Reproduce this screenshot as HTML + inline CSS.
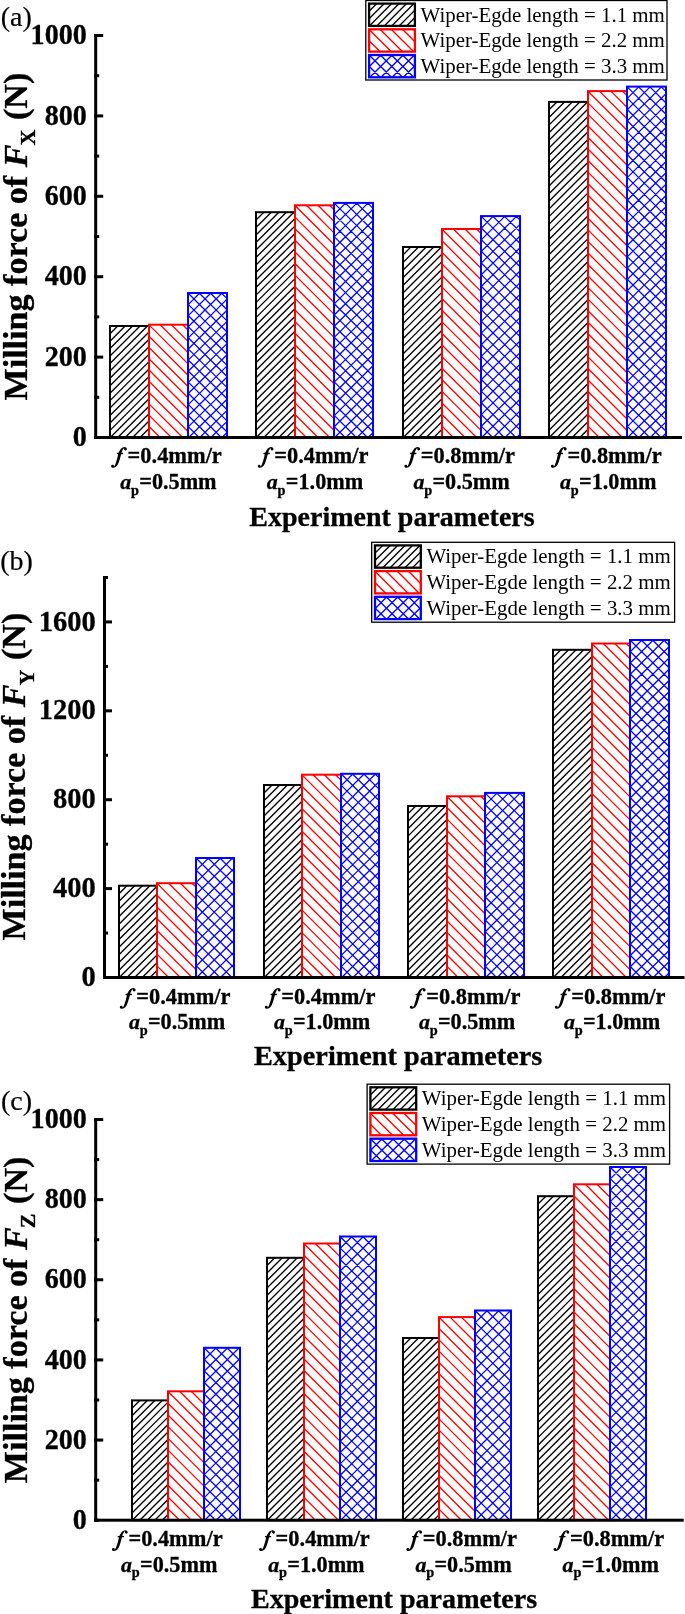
<!DOCTYPE html>
<html><head><meta charset="utf-8"><title>Milling force charts</title>
<style>html,body{margin:0;padding:0;background:#fff;overflow:hidden}svg{display:block;transform:translateZ(0);will-change:transform}text{font-family:"Liberation Serif",serif;fill:#000}.b{stroke:#000;stroke-width:.3px}</style></head><body>
<svg width="685" height="1614" viewBox="0 0 685 1614">
<rect width="685" height="1614" fill="#fff"/>
<defs><path id="fi" transform="scale(0.03504)" d="M385 250C402 195 430 132 462 112C452 140 462 186 497 186C527 186 543 162 538 136C533 105 505 85 470 85C400 85 345 150 300 250L258 252L250 288L290 290C270 390 240 500 205 590C195 615 185 630 170 642C176 612 155 592 128 594C100 596 85 617 90 642C95 670 125 682 150 680C230 675 285 600 315 500C340 420 360 350 375 290L428 290L436 252Z"/></defs>
<path d="M110 326.3L110.3 326M110 333.73L117.73 326M110 341.17L125.17 326M110 348.6L132.6 326M110 356.03L140.03 326M110 363.47L147.47 326M110 370.9L149 331.9M110 378.33L149 339.33M110 385.77L149 346.77M110 393.2L149 354.2M110 400.63L149 361.63M110 408.07L149 369.07M110 415.5L149 376.5M110 422.93L149 383.93M110 430.37L149 391.37M110.3 437.5L149 398.8M117.73 437.5L149 406.23M125.17 437.5L149 413.67M132.6 437.5L149 421.1M140.03 437.5L149 428.53M147.47 437.5L149 435.97" stroke="#000000" stroke-width="1.35" fill="none"/>
<rect x="110" y="326" width="39" height="111.5" fill="none" stroke="#000000" stroke-width="2"/>
<path d="M149 426.42L160.08 437.5M149 415.14L171.36 437.5M149 403.86L182.64 437.5M149 392.58L188 431.58M149 381.3L188 420.3M149 370.02L188 409.02M149 358.74L188 397.74M149 347.46L188 386.46M149 336.18L188 375.18M149 324.9L188 363.9M160.08 324.7L188 352.62M171.36 324.7L188 341.34M182.64 324.7L188 330.06" stroke="#ff0000" stroke-width="1.3" fill="none"/>
<rect x="149" y="324.7" width="39" height="112.8" fill="none" stroke="#ff0000" stroke-width="2"/>
<path d="M188 293.7L188.7 293M188 304.82L199.82 293M188 315.93L210.93 293M188 327.05L222.05 293M188 338.16L227 299.16M188 349.28L227 310.28M188 360.39L227 321.39M188 371.51L227 332.51M188 382.62L227 343.62M188 393.74L227 354.74M188 404.85L227 365.85M188 415.97L227 376.97M188 427.08L227 388.08M188.7 437.5L227 399.2M199.82 437.5L227 410.32M210.93 437.5L227 421.43M222.05 437.5L227 432.55M188 426.38L199.12 437.5M188 415.27L210.23 437.5M188 404.15L221.35 437.5M188 393.04L227 432.04M188 381.92L227 420.92M188 370.81L227 409.81M188 359.69L227 398.69M188 348.58L227 387.58M188 337.46L227 376.46M188 326.35L227 365.35M188 315.23L227 354.23M188 304.12L227 343.12M188 293L227 332M199.12 293L227 320.88M210.23 293L227 309.77M221.35 293L227 298.65" stroke="#0000ff" stroke-width="1.25" fill="none"/>
<rect x="188" y="293" width="39" height="144.5" fill="none" stroke="#0000ff" stroke-width="2"/>
<path d="M256 212.5L256.3 212.2M256 220.01L263.81 212.2M256 227.52L271.32 212.2M256 235.03L278.83 212.2M256 242.54L286.34 212.2M256 250.05L293.85 212.2M256 257.56L295 218.56M256 265.07L295 226.07M256 272.58L295 233.58M256 280.09L295 241.09M256 287.6L295 248.6M256 295.11L295 256.11M256 302.62L295 263.62M256 310.13L295 271.13M256 317.64L295 278.64M256 325.15L295 286.15M256 332.66L295 293.66M256 340.17L295 301.17M256 347.68L295 308.68M256 355.19L295 316.19M256 362.7L295 323.7M256 370.21L295 331.21M256 377.72L295 338.72M256 385.23L295 346.23M256 392.74L295 353.74M256 400.25L295 361.25M256 407.76L295 368.76M256 415.27L295 376.27M256 422.78L295 383.78M256 430.29L295 391.29M256.3 437.5L295 398.8M263.81 437.5L295 406.31M271.32 437.5L295 413.82M278.83 437.5L295 421.33M286.34 437.5L295 428.84M293.85 437.5L295 436.35" stroke="#000000" stroke-width="1.35" fill="none"/>
<rect x="256" y="212.2" width="39" height="225.3" fill="none" stroke="#000000" stroke-width="2"/>
<path d="M295 426.09L306.41 437.5M295 414.48L318.02 437.5M295 402.87L329.63 437.5M295 391.26L334 430.26M295 379.65L334 418.65M295 368.04L334 407.04M295 356.43L334 395.43M295 344.82L334 383.82M295 333.21L334 372.21M295 321.6L334 360.6M295 309.99L334 348.99M295 298.38L334 337.38M295 286.77L334 325.77M295 275.16L334 314.16M295 263.55L334 302.55M295 251.94L334 290.94M295 240.33L334 279.33M295 228.72L334 267.72M295 217.11L334 256.11M295 205.5L334 244.5M306.41 205.3L334 232.89M318.02 205.3L334 221.28M329.63 205.3L334 209.67" stroke="#ff0000" stroke-width="1.3" fill="none"/>
<rect x="295" y="205.3" width="39" height="232.2" fill="none" stroke="#ff0000" stroke-width="2"/>
<path d="M334 203.6L334.7 202.9M334 214.77L345.87 202.9M334 225.94L357.04 202.9M334 237.11L368.21 202.9M334 248.29L373 209.29M334 259.46L373 220.46M334 270.63L373 231.63M334 281.8L373 242.8M334 292.97L373 253.97M334 304.14L373 265.14M334 315.31L373 276.31M334 326.49L373 287.49M334 337.66L373 298.66M334 348.83L373 309.83M334 360L373 321M334 371.17L373 332.17M334 382.34L373 343.34M334 393.51L373 354.51M334 404.69L373 365.69M334 415.86L373 376.86M334 427.03L373 388.03M334.7 437.5L373 399.2M345.87 437.5L373 410.37M357.04 437.5L373 421.54M368.21 437.5L373 432.71M334 426.33L345.17 437.5M334 415.16L356.34 437.5M334 403.99L367.51 437.5M334 392.81L373 431.81M334 381.64L373 420.64M334 370.47L373 409.47M334 359.3L373 398.3M334 348.13L373 387.13M334 336.96L373 375.96M334 325.79L373 364.79M334 314.61L373 353.61M334 303.44L373 342.44M334 292.27L373 331.27M334 281.1L373 320.1M334 269.93L373 308.93M334 258.76L373 297.76M334 247.59L373 286.59M334 236.41L373 275.41M334 225.24L373 264.24M334 214.07L373 253.07M334 202.9L373 241.9M345.17 202.9L373 230.73M356.34 202.9L373 219.56M367.51 202.9L373 208.39" stroke="#0000ff" stroke-width="1.25" fill="none"/>
<rect x="334" y="202.9" width="39" height="234.6" fill="none" stroke="#0000ff" stroke-width="2"/>
<path d="M403 247.3L403.3 247M403 254.92L410.92 247M403 262.54L418.54 247M403 270.16L426.16 247M403 277.78L433.78 247M403 285.4L441.4 247M403 293.02L442 254.02M403 300.64L442 261.64M403 308.26L442 269.26M403 315.88L442 276.88M403 323.5L442 284.5M403 331.12L442 292.12M403 338.74L442 299.74M403 346.36L442 307.36M403 353.98L442 314.98M403 361.6L442 322.6M403 369.22L442 330.22M403 376.84L442 337.84M403 384.46L442 345.46M403 392.08L442 353.08M403 399.7L442 360.7M403 407.32L442 368.32M403 414.94L442 375.94M403 422.56L442 383.56M403 430.18L442 391.18M403.3 437.5L442 398.8M410.92 437.5L442 406.42M418.54 437.5L442 414.04M426.16 437.5L442 421.66M433.78 437.5L442 429.28M441.4 437.5L442 436.9" stroke="#000000" stroke-width="1.35" fill="none"/>
<rect x="403" y="247" width="39" height="190.5" fill="none" stroke="#000000" stroke-width="2"/>
<path d="M442 426.12L453.38 437.5M442 414.53L464.97 437.5M442 402.95L476.55 437.5M442 391.37L481 430.37M442 379.78L481 418.78M442 368.2L481 407.2M442 356.62L481 395.62M442 345.03L481 384.03M442 333.45L481 372.45M442 321.87L481 360.87M442 310.28L481 349.28M442 298.7L481 337.7M442 287.12L481 326.12M442 275.53L481 314.53M442 263.95L481 302.95M442 252.37L481 291.37M442 240.78L481 279.78M442 229.2L481 268.2M453.38 229L481 256.62M464.97 229L481 245.03M476.55 229L481 233.45" stroke="#ff0000" stroke-width="1.3" fill="none"/>
<rect x="442" y="229" width="39" height="208.5" fill="none" stroke="#ff0000" stroke-width="2"/>
<path d="M481 216.8L481.7 216.1M481 228.45L493.35 216.1M481 240.11L505.01 216.1M481 251.76L516.66 216.1M481 263.41L520 224.41M481 275.06L520 236.06M481 286.72L520 247.72M481 298.37L520 259.37M481 310.02L520 271.02M481 321.67L520 282.67M481 333.33L520 294.33M481 344.98L520 305.98M481 356.63L520 317.63M481 368.28L520 329.28M481 379.94L520 340.94M481 391.59L520 352.59M481 403.24L520 364.24M481 414.89L520 375.89M481 426.55L520 387.55M481.7 437.5L520 399.2M493.35 437.5L520 410.85M505.01 437.5L520 422.51M516.66 437.5L520 434.16M481 425.85L492.65 437.5M481 414.19L504.31 437.5M481 402.54L515.96 437.5M481 390.89L520 429.89M481 379.24L520 418.24M481 367.58L520 406.58M481 355.93L520 394.93M481 344.28L520 383.28M481 332.63L520 371.63M481 320.97L520 359.97M481 309.32L520 348.32M481 297.67L520 336.67M481 286.02L520 325.02M481 274.36L520 313.36M481 262.71L520 301.71M481 251.06L520 290.06M481 239.41L520 278.41M481 227.75L520 266.75M481 216.1L520 255.1M492.65 216.1L520 243.45M504.31 216.1L520 231.79M515.96 216.1L520 220.14" stroke="#0000ff" stroke-width="1.25" fill="none"/>
<rect x="481" y="216.1" width="39" height="221.4" fill="none" stroke="#0000ff" stroke-width="2"/>
<path d="M549 102.2L549.3 101.9M549 109.83L556.93 101.9M549 117.45L564.55 101.9M549 125.08L572.18 101.9M549 132.71L579.81 101.9M549 140.34L587.44 101.9M549 147.96L588 108.96M549 155.59L588 116.59M549 163.22L588 124.22M549 170.85L588 131.85M549 178.47L588 139.47M549 186.1L588 147.1M549 193.73L588 154.73M549 201.35L588 162.35M549 208.98L588 169.98M549 216.61L588 177.61M549 224.24L588 185.24M549 231.86L588 192.86M549 239.49L588 200.49M549 247.12L588 208.12M549 254.75L588 215.75M549 262.37L588 223.37M549 270L588 231M549 277.63L588 238.63M549 285.25L588 246.25M549 292.88L588 253.88M549 300.51L588 261.51M549 308.14L588 269.14M549 315.76L588 276.76M549 323.39L588 284.39M549 331.02L588 292.02M549 338.65L588 299.65M549 346.27L588 307.27M549 353.9L588 314.9M549 361.53L588 322.53M549 369.15L588 330.15M549 376.78L588 337.78M549 384.41L588 345.41M549 392.04L588 353.04M549 399.66L588 360.66M549 407.29L588 368.29M549 414.92L588 375.92M549 422.55L588 383.55M549 430.17L588 391.17M549.3 437.5L588 398.8M556.93 437.5L588 406.43M564.55 437.5L588 414.05M572.18 437.5L588 421.68M579.81 437.5L588 429.31M587.44 437.5L588 436.94" stroke="#000000" stroke-width="1.35" fill="none"/>
<rect x="549" y="101.9" width="39" height="335.6" fill="none" stroke="#000000" stroke-width="2"/>
<path d="M588 426.15L599.35 437.5M588 414.61L610.89 437.5M588 403.06L622.44 437.5M588 391.51L627 430.51M588 379.97L627 418.97M588 368.42L627 407.42M588 356.87L627 395.87M588 345.33L627 384.33M588 333.78L627 372.78M588 322.23L627 361.23M588 310.69L627 349.69M588 299.14L627 338.14M588 287.59L627 326.59M588 276.05L627 315.05M588 264.5L627 303.5M588 252.95L627 291.95M588 241.41L627 280.41M588 229.86L627 268.86M588 218.31L627 257.31M588 206.77L627 245.77M588 195.22L627 234.22M588 183.67L627 222.67M588 172.13L627 211.13M588 160.58L627 199.58M588 149.03L627 188.03M588 137.49L627 176.49M588 125.94L627 164.94M588 114.39L627 153.39M588 102.85L627 141.85M588 91.3L627 130.3M599.35 91.1L627 118.75M610.89 91.1L627 107.21M622.44 91.1L627 95.66" stroke="#ff0000" stroke-width="1.3" fill="none"/>
<rect x="588" y="91.1" width="39" height="346.4" fill="none" stroke="#ff0000" stroke-width="2"/>
<path d="M627 87.3L627.7 86.6M627 98.62L639.02 86.6M627 109.94L650.34 86.6M627 121.26L661.66 86.6M627 132.58L666 93.58M627 143.9L666 104.9M627 155.22L666 116.22M627 166.54L666 127.54M627 177.85L666 138.85M627 189.17L666 150.17M627 200.49L666 161.49M627 211.81L666 172.81M627 223.13L666 184.13M627 234.45L666 195.45M627 245.77L666 206.77M627 257.09L666 218.09M627 268.41L666 229.41M627 279.73L666 240.73M627 291.05L666 252.05M627 302.37L666 263.37M627 313.69L666 274.69M627 325.01L666 286.01M627 336.33L666 297.33M627 347.65L666 308.65M627 358.96L666 319.96M627 370.28L666 331.28M627 381.6L666 342.6M627 392.92L666 353.92M627 404.24L666 365.24M627 415.56L666 376.56M627 426.88L666 387.88M627.7 437.5L666 399.2M639.02 437.5L666 410.52M650.34 437.5L666 421.84M661.66 437.5L666 433.16M627 426.18L638.32 437.5M627 414.86L649.64 437.5M627 403.54L660.96 437.5M627 392.22L666 431.22M627 380.9L666 419.9M627 369.58L666 408.58M627 358.26L666 397.26M627 346.95L666 385.95M627 335.63L666 374.63M627 324.31L666 363.31M627 312.99L666 351.99M627 301.67L666 340.67M627 290.35L666 329.35M627 279.03L666 318.03M627 267.71L666 306.71M627 256.39L666 295.39M627 245.07L666 284.07M627 233.75L666 272.75M627 222.43L666 261.43M627 211.11L666 250.11M627 199.79L666 238.79M627 188.47L666 227.47M627 177.15L666 216.15M627 165.84L666 204.84M627 154.52L666 193.52M627 143.2L666 182.2M627 131.88L666 170.88M627 120.56L666 159.56M627 109.24L666 148.24M627 97.92L666 136.92M627 86.6L666 125.6M638.32 86.6L666 114.28M649.64 86.6L666 102.96M660.96 86.6L666 91.64" stroke="#0000ff" stroke-width="1.25" fill="none"/>
<rect x="627" y="86.6" width="39" height="350.9" fill="none" stroke="#0000ff" stroke-width="2"/>
<rect x="94.2" y="34" width="3" height="405" fill="#000"/>
<rect x="94.2" y="436" width="587.8" height="3" fill="#000"/>
<rect x="94.2" y="436" width="5" height="3" fill="#000"/>
<text transform="translate(86.9 446.1) scale(1 1.06)" font-size="28.15" font-weight="bold" font-style="normal" text-anchor="end" class="b">0</text>
<rect x="94.2" y="395.8" width="5" height="3" fill="#000"/>
<rect x="94.2" y="355.6" width="9" height="3" fill="#000"/>
<text transform="translate(86.9 365.7) scale(1 1.06)" font-size="28.15" font-weight="bold" font-style="normal" text-anchor="end" class="b">200</text>
<rect x="94.2" y="315.4" width="5" height="3" fill="#000"/>
<rect x="94.2" y="275.2" width="9" height="3" fill="#000"/>
<text transform="translate(86.9 285.3) scale(1 1.06)" font-size="28.15" font-weight="bold" font-style="normal" text-anchor="end" class="b">400</text>
<rect x="94.2" y="235" width="5" height="3" fill="#000"/>
<rect x="94.2" y="194.8" width="9" height="3" fill="#000"/>
<text transform="translate(86.9 204.9) scale(1 1.06)" font-size="28.15" font-weight="bold" font-style="normal" text-anchor="end" class="b">600</text>
<rect x="94.2" y="154.6" width="5" height="3" fill="#000"/>
<rect x="94.2" y="114.4" width="9" height="3" fill="#000"/>
<text transform="translate(86.9 124.5) scale(1 1.06)" font-size="28.15" font-weight="bold" font-style="normal" text-anchor="end" class="b">800</text>
<rect x="94.2" y="74.2" width="5" height="3" fill="#000"/>
<rect x="94.2" y="34" width="9" height="3" fill="#000"/>
<text transform="translate(86.9 44.1) scale(1 1.06)" font-size="28.15" font-weight="bold" font-style="normal" text-anchor="end" class="b">1000</text>
<text transform="translate(27 400.5) rotate(-90) scale(1 0.985)" font-size="34.1" font-weight="bold" class="b">Milling force of <tspan font-style="italic">F</tspan><tspan font-size="22" dy="8" dx="-1">X</tspan><tspan dy="-8" dx="1.2"> (N)</tspan></text>
<text x="0.7" y="26.3" font-size="28" font-weight="normal" font-style="normal" text-anchor="start" stroke="#000" stroke-width=".2">(a)</text>
<use href="#fi" x="108" y="444"/>
<text x="221.8" y="462.8" font-size="22.4" font-weight="bold" font-style="normal" text-anchor="end" class="b">=0.4mm/r</text>
<text x="120.2" y="489" font-size="22" font-weight="bold" font-style="italic" text-anchor="start" class="b">a</text>
<text x="131" y="494.5" font-size="14.3" font-weight="bold" font-style="normal" text-anchor="start" class="b">p</text>
<text x="216.6" y="489" font-size="22.2" font-weight="bold" font-style="normal" text-anchor="end" class="b">=0.5mm</text>
<use href="#fi" x="254.6" y="444"/>
<text x="368.4" y="462.8" font-size="22.4" font-weight="bold" font-style="normal" text-anchor="end" class="b">=0.4mm/r</text>
<text x="266.8" y="489" font-size="22" font-weight="bold" font-style="italic" text-anchor="start" class="b">a</text>
<text x="277.6" y="494.5" font-size="14.3" font-weight="bold" font-style="normal" text-anchor="start" class="b">p</text>
<text x="363.2" y="489" font-size="22.2" font-weight="bold" font-style="normal" text-anchor="end" class="b">=1.0mm</text>
<use href="#fi" x="401.2" y="444"/>
<text x="515" y="462.8" font-size="22.4" font-weight="bold" font-style="normal" text-anchor="end" class="b">=0.8mm/r</text>
<text x="413.4" y="489" font-size="22" font-weight="bold" font-style="italic" text-anchor="start" class="b">a</text>
<text x="424.2" y="494.5" font-size="14.3" font-weight="bold" font-style="normal" text-anchor="start" class="b">p</text>
<text x="509.8" y="489" font-size="22.2" font-weight="bold" font-style="normal" text-anchor="end" class="b">=0.5mm</text>
<use href="#fi" x="547.8" y="444"/>
<text x="661.6" y="462.8" font-size="22.4" font-weight="bold" font-style="normal" text-anchor="end" class="b">=0.8mm/r</text>
<text x="560" y="489" font-size="22" font-weight="bold" font-style="italic" text-anchor="start" class="b">a</text>
<text x="570.8" y="494.5" font-size="14.3" font-weight="bold" font-style="normal" text-anchor="start" class="b">p</text>
<text x="656.4" y="489" font-size="22.2" font-weight="bold" font-style="normal" text-anchor="end" class="b">=1.0mm</text>
<text x="392" y="525.5" font-size="28" font-weight="bold" font-style="normal" text-anchor="middle" class="b">Experiment parameters</text>
<rect x="365.8" y="0.5" width="301.2" height="79.5" fill="#fff" stroke="#000" stroke-width="1.3"/>
<path d="M369.1 3.9L369.4 3.6M369.1 11.33L376.83 3.6M369.1 18.77L384.27 3.6M369.4 25.9L391.7 3.6M376.83 25.9L399.13 3.6M384.27 25.9L406.57 3.6M391.7 25.9L414 3.6M399.13 25.9L414.9 10.13M406.57 25.9L414.9 17.57M414 25.9L414.9 25" stroke="#000000" stroke-width="1.35" fill="none"/>
<rect x="369.1" y="3.6" width="45.8" height="22.3" fill="none" stroke="#000000" stroke-width="2.3"/>
<text x="420.5" y="21.5" font-size="20.9" font-weight="normal" font-style="normal" text-anchor="start">Wiper-Egde length = 1.1 mm</text>
<path d="M369.1 40.65L380.05 51.6M369.1 29.5L391.2 51.6M380.05 29.3L402.35 51.6M391.2 29.3L413.5 51.6M402.35 29.3L414.9 41.85M413.5 29.3L414.9 30.7" stroke="#ff0000" stroke-width="1.35" fill="none"/>
<rect x="369.1" y="29.3" width="45.8" height="22.3" fill="none" stroke="#ff0000" stroke-width="2.3"/>
<text x="420.5" y="47.2" font-size="20.9" font-weight="normal" font-style="normal" text-anchor="start">Wiper-Egde length = 2.2 mm</text>
<path d="M369.1 55.7L369.8 55M369.1 66.85L380.95 55M369.8 77.3L392.1 55M380.95 77.3L403.25 55M392.1 77.3L414.4 55M403.25 77.3L414.9 65.65M414.4 77.3L414.9 76.8M369.1 66.15L380.25 77.3M369.1 55L391.4 77.3M380.25 55L402.55 77.3M391.4 55L413.7 77.3M402.55 55L414.9 67.35M413.7 55L414.9 56.2" stroke="#0000ff" stroke-width="1.35" fill="none"/>
<rect x="369.1" y="55" width="45.8" height="22.3" fill="none" stroke="#0000ff" stroke-width="2.3"/>
<text x="420.5" y="72.9" font-size="20.9" font-weight="normal" font-style="normal" text-anchor="start">Wiper-Egde length = 3.3 mm</text>
<path d="M119 886L119.3 885.7M119 893.65L126.95 885.7M119 901.3L134.6 885.7M119 908.95L142.25 885.7M119 916.6L149.9 885.7M119 924.25L157 886.25M119 931.9L157 893.9M119 939.55L157 901.55M119 947.2L157 909.2M119 954.85L157 916.85M119 962.5L157 924.5M119 970.15L157 932.15M119.3 977.5L157 939.8M126.95 977.5L157 947.45M134.6 977.5L157 955.1M142.25 977.5L157 962.75M149.9 977.5L157 970.4" stroke="#000000" stroke-width="1.35" fill="none"/>
<rect x="119" y="885.7" width="38" height="91.8" fill="none" stroke="#000000" stroke-width="2"/>
<path d="M157 965.91L168.59 977.5M157 954.12L180.38 977.5M157 942.34L192.16 977.5M157 930.55L196 969.55M157 918.76L196 957.76M157 906.97L196 945.97M157 895.19L196 934.19M157 883.4L196 922.4M168.59 883.2L196 910.61M180.38 883.2L196 898.82M192.16 883.2L196 887.04" stroke="#ff0000" stroke-width="1.3" fill="none"/>
<rect x="157" y="883.2" width="39" height="94.3" fill="none" stroke="#ff0000" stroke-width="2"/>
<path d="M196 858.7L196.7 858M196 870.65L208.65 858M196 882.6L220.6 858M196 894.55L232.55 858M196 906.5L234 868.5M196 918.45L234 880.45M196 930.4L234 892.4M196 942.35L234 904.35M196 954.3L234 916.3M196 966.25L234 928.25M196.7 977.5L234 940.2M208.65 977.5L234 952.15M220.6 977.5L234 964.1M232.55 977.5L234 976.05M196 965.55L207.95 977.5M196 953.6L219.9 977.5M196 941.65L231.85 977.5M196 929.7L234 967.7M196 917.75L234 955.75M196 905.8L234 943.8M196 893.85L234 931.85M196 881.9L234 919.9M196 869.95L234 907.95M196 858L234 896M207.95 858L234 884.05M219.9 858L234 872.1M231.85 858L234 860.15" stroke="#0000ff" stroke-width="1.25" fill="none"/>
<rect x="196" y="858" width="38" height="119.5" fill="none" stroke="#0000ff" stroke-width="2"/>
<path d="M264 785.3L264.3 785M264 793L272 785M264 800.7L279.7 785M264 808.4L287.4 785M264 816.1L295.1 785M264 823.8L302 785.8M264 831.5L302 793.5M264 839.2L302 801.2M264 846.9L302 808.9M264 854.6L302 816.6M264 862.3L302 824.3M264 870L302 832M264 877.7L302 839.7M264 885.4L302 847.4M264 893.1L302 855.1M264 900.8L302 862.8M264 908.5L302 870.5M264 916.2L302 878.2M264 923.9L302 885.9M264 931.6L302 893.6M264 939.3L302 901.3M264 947L302 909M264 954.7L302 916.7M264 962.4L302 924.4M264 970.1L302 932.1M264.3 977.5L302 939.8M272 977.5L302 947.5M279.7 977.5L302 955.2M287.4 977.5L302 962.9M295.1 977.5L302 970.6" stroke="#000000" stroke-width="1.35" fill="none"/>
<rect x="264" y="785" width="38" height="192.5" fill="none" stroke="#000000" stroke-width="2"/>
<path d="M302 966.43L313.07 977.5M302 955.17L324.33 977.5M302 943.9L335.6 977.5M302 932.63L341 971.63M302 921.37L341 960.37M302 910.1L341 949.1M302 898.83L341 937.83M302 887.57L341 926.57M302 876.3L341 915.3M302 865.03L341 904.03M302 853.77L341 892.77M302 842.5L341 881.5M302 831.23L341 870.23M302 819.97L341 858.97M302 808.7L341 847.7M302 797.43L341 836.43M302 786.17L341 825.17M302 774.9L341 813.9M313.07 774.7L341 802.63M324.33 774.7L341 791.37M335.6 774.7L341 780.1" stroke="#ff0000" stroke-width="1.3" fill="none"/>
<rect x="302" y="774.7" width="39" height="202.8" fill="none" stroke="#ff0000" stroke-width="2"/>
<path d="M341 774.5L341.7 773.8M341 785.82L353.02 773.8M341 797.13L364.33 773.8M341 808.45L375.65 773.8M341 819.77L379 781.77M341 831.08L379 793.08M341 842.4L379 804.4M341 853.72L379 815.72M341 865.03L379 827.03M341 876.35L379 838.35M341 887.67L379 849.67M341 898.98L379 860.98M341 910.3L379 872.3M341 921.62L379 883.62M341 932.93L379 894.93M341 944.25L379 906.25M341 955.57L379 917.57M341 966.88L379 928.88M341.7 977.5L379 940.2M353.02 977.5L379 951.52M364.33 977.5L379 962.83M375.65 977.5L379 974.15M341 966.18L352.32 977.5M341 954.87L363.63 977.5M341 943.55L374.95 977.5M341 932.23L379 970.23M341 920.92L379 958.92M341 909.6L379 947.6M341 898.28L379 936.28M341 886.97L379 924.97M341 875.65L379 913.65M341 864.33L379 902.33M341 853.02L379 891.02M341 841.7L379 879.7M341 830.38L379 868.38M341 819.07L379 857.07M341 807.75L379 845.75M341 796.43L379 834.43M341 785.12L379 823.12M341 773.8L379 811.8M352.32 773.8L379 800.48M363.63 773.8L379 789.17M374.95 773.8L379 777.85" stroke="#0000ff" stroke-width="1.25" fill="none"/>
<rect x="341" y="773.8" width="38" height="203.7" fill="none" stroke="#0000ff" stroke-width="2"/>
<path d="M408 806.3L408.3 806M408 813.76L415.76 806M408 821.21L423.21 806M408 828.67L430.67 806M408 836.13L438.13 806M408 843.58L445.58 806M408 851.04L447 812.04M408 858.5L447 819.5M408 865.95L447 826.95M408 873.41L447 834.41M408 880.87L447 841.87M408 888.32L447 849.32M408 895.78L447 856.78M408 903.23L447 864.23M408 910.69L447 871.69M408 918.15L447 879.15M408 925.6L447 886.6M408 933.06L447 894.06M408 940.52L447 901.52M408 947.97L447 908.97M408 955.43L447 916.43M408 962.89L447 923.89M408 970.34L447 931.34M408.3 977.5L447 938.8M415.76 977.5L447 946.26M423.21 977.5L447 953.71M430.67 977.5L447 961.17M438.13 977.5L447 968.63M445.58 977.5L447 976.08" stroke="#000000" stroke-width="1.35" fill="none"/>
<rect x="408" y="806" width="39" height="171.5" fill="none" stroke="#000000" stroke-width="2"/>
<path d="M447 966.37L458.13 977.5M447 955.05L469.45 977.5M447 943.72L480.78 977.5M447 932.4L485 970.4M447 921.07L485 959.07M447 909.75L485 947.75M447 898.42L485 936.42M447 887.1L485 925.1M447 875.77L485 913.77M447 864.45L485 902.45M447 853.12L485 891.12M447 841.8L485 879.8M447 830.48L485 868.48M447 819.15L485 857.15M447 807.83L485 845.83M447 796.5L485 834.5M458.12 796.3L485 823.18M469.45 796.3L485 811.85M480.77 796.3L485 800.53" stroke="#ff0000" stroke-width="1.3" fill="none"/>
<rect x="447" y="796.3" width="38" height="181.2" fill="none" stroke="#ff0000" stroke-width="2"/>
<path d="M485 793.6L485.7 792.9M485 805.14L497.24 792.9M485 816.67L508.77 792.9M485 828.21L520.31 792.9M485 839.75L524 800.75M485 851.29L524 812.29M485 862.82L524 823.82M485 874.36L524 835.36M485 885.9L524 846.9M485 897.44L524 858.44M485 908.97L524 869.97M485 920.51L524 881.51M485 932.05L524 893.05M485 943.59L524 904.59M485 955.12L524 916.12M485 966.66L524 927.66M485.7 977.5L524 939.2M497.24 977.5L524 950.74M508.77 977.5L524 962.27M520.31 977.5L524 973.81M485 965.96L496.54 977.5M485 954.42L508.08 977.5M485 942.89L519.61 977.5M485 931.35L524 970.35M485 919.81L524 958.81M485 908.27L524 947.27M485 896.74L524 935.74M485 885.2L524 924.2M485 873.66L524 912.66M485 862.12L524 901.12M485 850.59L524 889.59M485 839.05L524 878.05M485 827.51L524 866.51M485 815.97L524 854.97M485 804.44L524 843.44M485 792.9L524 831.9M496.54 792.9L524 820.36M508.08 792.9L524 808.82M519.61 792.9L524 797.29" stroke="#0000ff" stroke-width="1.25" fill="none"/>
<rect x="485" y="792.9" width="39" height="184.6" fill="none" stroke="#0000ff" stroke-width="2"/>
<path d="M553 650.1L553.3 649.8M553 657.72L560.92 649.8M553 665.34L568.54 649.8M553 672.96L576.16 649.8M553 680.58L583.78 649.8M553 688.2L591.4 649.8M553 695.83L592 656.83M553 703.45L592 664.45M553 711.07L592 672.07M553 718.69L592 679.69M553 726.31L592 687.31M553 733.93L592 694.93M553 741.55L592 702.55M553 749.17L592 710.17M553 756.79L592 717.79M553 764.41L592 725.41M553 772.03L592 733.03M553 779.66L592 740.66M553 787.28L592 748.28M553 794.9L592 755.9M553 802.52L592 763.52M553 810.14L592 771.14M553 817.76L592 778.76M553 825.38L592 786.38M553 833L592 794M553 840.62L592 801.62M553 848.24L592 809.24M553 855.87L592 816.87M553 863.49L592 824.49M553 871.11L592 832.11M553 878.73L592 839.73M553 886.35L592 847.35M553 893.97L592 854.97M553 901.59L592 862.59M553 909.21L592 870.21M553 916.83L592 877.83M553 924.45L592 885.45M553 932.07L592 893.07M553 939.7L592 900.7M553 947.32L592 908.32M553 954.94L592 915.94M553 962.56L592 923.56M553 970.18L592 931.18M553.3 977.5L592 938.8M560.92 977.5L592 946.42M568.54 977.5L592 954.04M576.16 977.5L592 961.66M583.78 977.5L592 969.28M591.4 977.5L592 976.9" stroke="#000000" stroke-width="1.35" fill="none"/>
<rect x="553" y="649.8" width="39" height="327.7" fill="none" stroke="#000000" stroke-width="2"/>
<path d="M592 966.18L603.32 977.5M592 954.67L614.83 977.5M592 943.15L626.35 977.5M592 931.63L630 969.63M592 920.11L630 958.11M592 908.6L630 946.6M592 897.08L630 935.08M592 885.56L630 923.56M592 874.04L630 912.04M592 862.53L630 900.53M592 851.01L630 889.01M592 839.49L630 877.49M592 827.98L630 865.98M592 816.46L630 854.46M592 804.94L630 842.94M592 793.42L630 831.42M592 781.91L630 819.91M592 770.39L630 808.39M592 758.87L630 796.87M592 747.36L630 785.36M592 735.84L630 773.84M592 724.32L630 762.32M592 712.8L630 750.8M592 701.29L630 739.29M592 689.77L630 727.77M592 678.25L630 716.25M592 666.73L630 704.73M592 655.22L630 693.22M592 643.7L630 681.7M603.32 643.5L630 670.18M614.83 643.5L630 658.67M626.35 643.5L630 647.15" stroke="#ff0000" stroke-width="1.3" fill="none"/>
<rect x="592" y="643.5" width="38" height="334" fill="none" stroke="#ff0000" stroke-width="2"/>
<path d="M630 640.7L630.7 640M630 651.95L641.95 640M630 663.2L653.2 640M630 674.45L664.45 640M630 685.7L669 646.7M630 696.95L669 657.95M630 708.2L669 669.2M630 719.45L669 680.45M630 730.7L669 691.7M630 741.95L669 702.95M630 753.2L669 714.2M630 764.45L669 725.45M630 775.7L669 736.7M630 786.95L669 747.95M630 798.2L669 759.2M630 809.45L669 770.45M630 820.7L669 781.7M630 831.95L669 792.95M630 843.2L669 804.2M630 854.45L669 815.45M630 865.7L669 826.7M630 876.95L669 837.95M630 888.2L669 849.2M630 899.45L669 860.45M630 910.7L669 871.7M630 921.95L669 882.95M630 933.2L669 894.2M630 944.45L669 905.45M630 955.7L669 916.7M630 966.95L669 927.95M630.7 977.5L669 939.2M641.95 977.5L669 950.45M653.2 977.5L669 961.7M664.45 977.5L669 972.95M630 966.25L641.25 977.5M630 955L652.5 977.5M630 943.75L663.75 977.5M630 932.5L669 971.5M630 921.25L669 960.25M630 910L669 949M630 898.75L669 937.75M630 887.5L669 926.5M630 876.25L669 915.25M630 865L669 904M630 853.75L669 892.75M630 842.5L669 881.5M630 831.25L669 870.25M630 820L669 859M630 808.75L669 847.75M630 797.5L669 836.5M630 786.25L669 825.25M630 775L669 814M630 763.75L669 802.75M630 752.5L669 791.5M630 741.25L669 780.25M630 730L669 769M630 718.75L669 757.75M630 707.5L669 746.5M630 696.25L669 735.25M630 685L669 724M630 673.75L669 712.75M630 662.5L669 701.5M630 651.25L669 690.25M630 640L669 679M641.25 640L669 667.75M652.5 640L669 656.5M663.75 640L669 645.25" stroke="#0000ff" stroke-width="1.25" fill="none"/>
<rect x="630" y="640" width="39" height="337.5" fill="none" stroke="#0000ff" stroke-width="2"/>
<rect x="103" y="576" width="3" height="403" fill="#000"/>
<rect x="103" y="976" width="581.5" height="3" fill="#000"/>
<rect x="103" y="976" width="5" height="3" fill="#000"/>
<text transform="translate(95.7 986.1) scale(1 1.06)" font-size="28.5" font-weight="bold" font-style="normal" text-anchor="end" class="b">0</text>
<rect x="103" y="931.56" width="5" height="3" fill="#000"/>
<rect x="103" y="887.11" width="9" height="3" fill="#000"/>
<text transform="translate(95.7 897.21) scale(1 1.06)" font-size="28.5" font-weight="bold" font-style="normal" text-anchor="end" class="b">400</text>
<rect x="103" y="842.67" width="5" height="3" fill="#000"/>
<rect x="103" y="798.22" width="9" height="3" fill="#000"/>
<text transform="translate(95.7 808.32) scale(1 1.06)" font-size="28.5" font-weight="bold" font-style="normal" text-anchor="end" class="b">800</text>
<rect x="103" y="753.78" width="5" height="3" fill="#000"/>
<rect x="103" y="709.33" width="9" height="3" fill="#000"/>
<text transform="translate(95.7 719.43) scale(1 1.06)" font-size="28.5" font-weight="bold" font-style="normal" text-anchor="end" class="b">1200</text>
<rect x="103" y="664.89" width="5" height="3" fill="#000"/>
<rect x="103" y="620.44" width="9" height="3" fill="#000"/>
<text transform="translate(95.7 630.54) scale(1 1.06)" font-size="28.5" font-weight="bold" font-style="normal" text-anchor="end" class="b">1600</text>
<rect x="103" y="576" width="5" height="3" fill="#000"/>
<text transform="translate(25.4 940.5) rotate(-90) scale(1 0.985)" font-size="34.1" font-weight="bold" class="b">Milling force of <tspan font-style="italic">F</tspan><tspan font-size="22" dy="9.2" dx="-1">Y</tspan><tspan dy="-9.2" dx="1.2"> (N)</tspan></text>
<text x="0.3" y="570.3" font-size="28" font-weight="normal" font-style="normal" text-anchor="start" stroke="#000" stroke-width=".2">(b)</text>
<use href="#fi" x="116.7" y="985"/>
<text x="230.5" y="1003.8" font-size="22.4" font-weight="bold" font-style="normal" text-anchor="end" class="b">=0.4mm/r</text>
<text x="128.9" y="1029.2" font-size="22" font-weight="bold" font-style="italic" text-anchor="start" class="b">a</text>
<text x="139.7" y="1034.7" font-size="14.3" font-weight="bold" font-style="normal" text-anchor="start" class="b">p</text>
<text x="225.3" y="1029.2" font-size="22.2" font-weight="bold" font-style="normal" text-anchor="end" class="b">=0.5mm</text>
<use href="#fi" x="261.7" y="985"/>
<text x="375.5" y="1003.8" font-size="22.4" font-weight="bold" font-style="normal" text-anchor="end" class="b">=0.4mm/r</text>
<text x="273.9" y="1029.2" font-size="22" font-weight="bold" font-style="italic" text-anchor="start" class="b">a</text>
<text x="284.7" y="1034.7" font-size="14.3" font-weight="bold" font-style="normal" text-anchor="start" class="b">p</text>
<text x="370.3" y="1029.2" font-size="22.2" font-weight="bold" font-style="normal" text-anchor="end" class="b">=1.0mm</text>
<use href="#fi" x="406.7" y="985"/>
<text x="520.5" y="1003.8" font-size="22.4" font-weight="bold" font-style="normal" text-anchor="end" class="b">=0.8mm/r</text>
<text x="418.9" y="1029.2" font-size="22" font-weight="bold" font-style="italic" text-anchor="start" class="b">a</text>
<text x="429.7" y="1034.7" font-size="14.3" font-weight="bold" font-style="normal" text-anchor="start" class="b">p</text>
<text x="515.3" y="1029.2" font-size="22.2" font-weight="bold" font-style="normal" text-anchor="end" class="b">=0.5mm</text>
<use href="#fi" x="551.7" y="985"/>
<text x="665.5" y="1003.8" font-size="22.4" font-weight="bold" font-style="normal" text-anchor="end" class="b">=0.8mm/r</text>
<text x="563.9" y="1029.2" font-size="22" font-weight="bold" font-style="italic" text-anchor="start" class="b">a</text>
<text x="574.7" y="1034.7" font-size="14.3" font-weight="bold" font-style="normal" text-anchor="start" class="b">p</text>
<text x="660.3" y="1029.2" font-size="22.2" font-weight="bold" font-style="normal" text-anchor="end" class="b">=1.0mm</text>
<text x="398.2" y="1064.9" font-size="28.3" font-weight="bold" font-style="normal" text-anchor="middle" class="b">Experiment parameters</text>
<rect x="371.7" y="542.3" width="302.9" height="79.9" fill="#fff" stroke="#000" stroke-width="1.3"/>
<path d="M375 545.7L375.3 545.4M375 553.13L382.73 545.4M375 560.57L390.17 545.4M375.3 567.7L397.6 545.4M382.73 567.7L405.03 545.4M390.17 567.7L412.47 545.4M397.6 567.7L419.9 545.4M405.03 567.7L420.8 551.93M412.47 567.7L420.8 559.37M419.9 567.7L420.8 566.8" stroke="#000000" stroke-width="1.35" fill="none"/>
<rect x="375" y="545.4" width="45.8" height="22.3" fill="none" stroke="#000000" stroke-width="2.3"/>
<text x="426.4" y="563.3" font-size="20.9" font-weight="normal" font-style="normal" text-anchor="start">Wiper-Egde length = 1.1 mm</text>
<path d="M375 582.45L385.95 593.4M375 571.3L397.1 593.4M385.95 571.1L408.25 593.4M397.1 571.1L419.4 593.4M408.25 571.1L420.8 583.65M419.4 571.1L420.8 572.5" stroke="#ff0000" stroke-width="1.35" fill="none"/>
<rect x="375" y="571.1" width="45.8" height="22.3" fill="none" stroke="#ff0000" stroke-width="2.3"/>
<text x="426.4" y="589" font-size="20.9" font-weight="normal" font-style="normal" text-anchor="start">Wiper-Egde length = 2.2 mm</text>
<path d="M375 597.5L375.7 596.8M375 608.65L386.85 596.8M375.7 619.1L398 596.8M386.85 619.1L409.15 596.8M398 619.1L420.3 596.8M409.15 619.1L420.8 607.45M420.3 619.1L420.8 618.6M375 607.95L386.15 619.1M375 596.8L397.3 619.1M386.15 596.8L408.45 619.1M397.3 596.8L419.6 619.1M408.45 596.8L420.8 609.15M419.6 596.8L420.8 598" stroke="#0000ff" stroke-width="1.35" fill="none"/>
<rect x="375" y="596.8" width="45.8" height="22.3" fill="none" stroke="#0000ff" stroke-width="2.3"/>
<text x="426.4" y="614.7" font-size="20.9" font-weight="normal" font-style="normal" text-anchor="start">Wiper-Egde length = 3.3 mm</text>
<path d="M132 1400.7L132.3 1400.4M132 1408.19L139.79 1400.4M132 1415.67L147.27 1400.4M132 1423.16L154.76 1400.4M132 1430.65L162.25 1400.4M132 1438.14L168 1402.14M132 1445.62L168 1409.62M132 1453.11L168 1417.11M132 1460.6L168 1424.6M132 1468.09L168 1432.09M132 1475.57L168 1439.57M132 1483.06L168 1447.06M132 1490.55L168 1454.55M132 1498.04L168 1462.04M132 1505.52L168 1469.52M132 1513.01L168 1477.01M132.3 1520.2L168 1484.5M139.79 1520.2L168 1491.99M147.27 1520.2L168 1499.47M154.76 1520.2L168 1506.96M162.25 1520.2L168 1514.45" stroke="#000000" stroke-width="1.35" fill="none"/>
<rect x="132" y="1400.4" width="36" height="119.8" fill="none" stroke="#000000" stroke-width="2"/>
<path d="M168 1508.68L179.52 1520.2M168 1496.96L191.24 1520.2M168 1485.25L202.95 1520.2M168 1473.53L204 1509.53M168 1461.81L204 1497.81M168 1450.09L204 1486.09M168 1438.37L204 1474.37M168 1426.65L204 1462.65M168 1414.94L204 1450.94M168 1403.22L204 1439.22M168 1391.5L204 1427.5M179.52 1391.3L204 1415.78M191.24 1391.3L204 1404.06M202.95 1391.3L204 1392.35" stroke="#ff0000" stroke-width="1.3" fill="none"/>
<rect x="168" y="1391.3" width="36" height="128.9" fill="none" stroke="#ff0000" stroke-width="2"/>
<path d="M204 1348.5L204.7 1347.8M204 1359.99L216.19 1347.8M204 1371.49L227.69 1347.8M204 1382.98L239.18 1347.8M204 1394.47L240 1358.47M204 1405.97L240 1369.97M204 1417.46L240 1381.46M204 1428.95L240 1392.95M204 1440.45L240 1404.45M204 1451.94L240 1415.94M204 1463.43L240 1427.43M204 1474.93L240 1438.93M204 1486.42L240 1450.42M204 1497.91L240 1461.91M204 1509.41L240 1473.41M204.7 1520.2L240 1484.9M216.19 1520.2L240 1496.39M227.69 1520.2L240 1507.89M239.18 1520.2L240 1519.38M204 1508.71L215.49 1520.2M204 1497.21L226.99 1520.2M204 1485.72L238.48 1520.2M204 1474.23L240 1510.23M204 1462.73L240 1498.73M204 1451.24L240 1487.24M204 1439.75L240 1475.75M204 1428.25L240 1464.25M204 1416.76L240 1452.76M204 1405.27L240 1441.27M204 1393.77L240 1429.77M204 1382.28L240 1418.28M204 1370.79L240 1406.79M204 1359.29L240 1395.29M204 1347.8L240 1383.8M215.49 1347.8L240 1372.31M226.99 1347.8L240 1360.81M238.48 1347.8L240 1349.32" stroke="#0000ff" stroke-width="1.25" fill="none"/>
<rect x="204" y="1347.8" width="36" height="172.4" fill="none" stroke="#0000ff" stroke-width="2"/>
<path d="M267 1258.1L267.3 1257.8M267 1265.6L274.8 1257.8M267 1273.09L282.29 1257.8M267 1280.59L289.79 1257.8M267 1288.09L297.29 1257.8M267 1295.59L304 1258.59M267 1303.08L304 1266.08M267 1310.58L304 1273.58M267 1318.08L304 1281.08M267 1325.57L304 1288.57M267 1333.07L304 1296.07M267 1340.57L304 1303.57M267 1348.07L304 1311.07M267 1355.56L304 1318.56M267 1363.06L304 1326.06M267 1370.56L304 1333.56M267 1378.05L304 1341.05M267 1385.55L304 1348.55M267 1393.05L304 1356.05M267 1400.55L304 1363.55M267 1408.04L304 1371.04M267 1415.54L304 1378.54M267 1423.04L304 1386.04M267 1430.53L304 1393.53M267 1438.03L304 1401.03M267 1445.53L304 1408.53M267 1453.03L304 1416.03M267 1460.52L304 1423.52M267 1468.02L304 1431.02M267 1475.52L304 1438.52M267 1483.01L304 1446.01M267 1490.51L304 1453.51M267 1498.01L304 1461.01M267 1505.51L304 1468.51M267 1513L304 1476M267.3 1520.2L304 1483.5M274.8 1520.2L304 1491M282.29 1520.2L304 1498.49M289.79 1520.2L304 1505.99M297.29 1520.2L304 1513.49" stroke="#000000" stroke-width="1.35" fill="none"/>
<rect x="267" y="1257.8" width="37" height="262.4" fill="none" stroke="#000000" stroke-width="2"/>
<path d="M304 1508.87L315.33 1520.2M304 1497.34L326.86 1520.2M304 1485.81L338.39 1520.2M304 1474.28L340 1510.28M304 1462.75L340 1498.75M304 1451.22L340 1487.22M304 1439.7L340 1475.7M304 1428.17L340 1464.17M304 1416.64L340 1452.64M304 1405.11L340 1441.11M304 1393.58L340 1429.58M304 1382.05L340 1418.05M304 1370.52L340 1406.52M304 1358.99L340 1394.99M304 1347.46L340 1383.46M304 1335.93L340 1371.93M304 1324.4L340 1360.4M304 1312.87L340 1348.87M304 1301.35L340 1337.35M304 1289.82L340 1325.82M304 1278.29L340 1314.29M304 1266.76L340 1302.76M304 1255.23L340 1291.23M304 1243.7L340 1279.7M315.33 1243.5L340 1268.17M326.86 1243.5L340 1256.64M338.39 1243.5L340 1245.11" stroke="#ff0000" stroke-width="1.3" fill="none"/>
<rect x="304" y="1243.5" width="36" height="276.7" fill="none" stroke="#ff0000" stroke-width="2"/>
<path d="M340 1237.2L340.7 1236.5M340 1248.55L352.05 1236.5M340 1259.9L363.4 1236.5M340 1271.24L374.74 1236.5M340 1282.59L376 1246.59M340 1293.94L376 1257.94M340 1305.29L376 1269.29M340 1316.64L376 1280.64M340 1327.98L376 1291.98M340 1339.33L376 1303.33M340 1350.68L376 1314.68M340 1362.03L376 1326.03M340 1373.38L376 1337.38M340 1384.72L376 1348.72M340 1396.07L376 1360.07M340 1407.42L376 1371.42M340 1418.77L376 1382.77M340 1430.12L376 1394.12M340 1441.46L376 1405.46M340 1452.81L376 1416.81M340 1464.16L376 1428.16M340 1475.51L376 1439.51M340 1486.86L376 1450.86M340 1498.2L376 1462.2M340 1509.55L376 1473.55M340.7 1520.2L376 1484.9M352.05 1520.2L376 1496.25M363.4 1520.2L376 1507.6M374.74 1520.2L376 1518.94M340 1508.85L351.35 1520.2M340 1497.5L362.7 1520.2M340 1486.16L374.04 1520.2M340 1474.81L376 1510.81M340 1463.46L376 1499.46M340 1452.11L376 1488.11M340 1440.76L376 1476.76M340 1429.42L376 1465.42M340 1418.07L376 1454.07M340 1406.72L376 1442.72M340 1395.37L376 1431.37M340 1384.02L376 1420.02M340 1372.68L376 1408.68M340 1361.33L376 1397.33M340 1349.98L376 1385.98M340 1338.63L376 1374.63M340 1327.28L376 1363.28M340 1315.94L376 1351.94M340 1304.59L376 1340.59M340 1293.24L376 1329.24M340 1281.89L376 1317.89M340 1270.54L376 1306.54M340 1259.2L376 1295.2M340 1247.85L376 1283.85M340 1236.5L376 1272.5M351.35 1236.5L376 1261.15M362.7 1236.5L376 1249.8M374.04 1236.5L376 1238.46" stroke="#0000ff" stroke-width="1.25" fill="none"/>
<rect x="340" y="1236.5" width="36" height="283.7" fill="none" stroke="#0000ff" stroke-width="2"/>
<path d="M403 1338.3L403.3 1338M403 1345.89L410.89 1338M403 1353.48L418.48 1338M403 1361.08L426.08 1338M403 1368.67L433.67 1338M403 1376.26L439 1340.26M403 1383.85L439 1347.85M403 1391.44L439 1355.44M403 1399.03L439 1363.03M403 1406.63L439 1370.63M403 1414.22L439 1378.22M403 1421.81L439 1385.81M403 1429.4L439 1393.4M403 1436.99L439 1400.99M403 1444.58L439 1408.58M403 1452.18L439 1416.18M403 1459.77L439 1423.77M403 1467.36L439 1431.36M403 1474.95L439 1438.95M403 1482.54L439 1446.54M403 1490.13L439 1454.13M403 1497.73L439 1461.73M403 1505.32L439 1469.32M403 1512.91L439 1476.91M403.3 1520.2L439 1484.5M410.89 1520.2L439 1492.09M418.48 1520.2L439 1499.68M426.08 1520.2L439 1507.28M433.67 1520.2L439 1514.87" stroke="#000000" stroke-width="1.35" fill="none"/>
<rect x="403" y="1338" width="36" height="182.2" fill="none" stroke="#000000" stroke-width="2"/>
<path d="M439 1509.12L450.08 1520.2M439 1497.83L461.37 1520.2M439 1486.55L472.65 1520.2M439 1475.27L475 1511.27M439 1463.98L475 1499.98M439 1452.7L475 1488.7M439 1441.42L475 1477.42M439 1430.13L475 1466.13M439 1418.85L475 1454.85M439 1407.57L475 1443.57M439 1396.28L475 1432.28M439 1385L475 1421M439 1373.72L475 1409.72M439 1362.43L475 1398.43M439 1351.15L475 1387.15M439 1339.87L475 1375.87M439 1328.58L475 1364.58M439 1317.3L475 1353.3M450.08 1317.1L475 1342.02M461.37 1317.1L475 1330.73M472.65 1317.1L475 1319.45" stroke="#ff0000" stroke-width="1.3" fill="none"/>
<rect x="439" y="1317.1" width="36" height="203.1" fill="none" stroke="#ff0000" stroke-width="2"/>
<path d="M475 1311.2L475.7 1310.5M475 1322.85L487.35 1310.5M475 1334.5L499 1310.5M475 1346.15L510.65 1310.5M475 1357.8L511 1321.8M475 1369.45L511 1333.45M475 1381.1L511 1345.1M475 1392.75L511 1356.75M475 1404.4L511 1368.4M475 1416.05L511 1380.05M475 1427.7L511 1391.7M475 1439.35L511 1403.35M475 1451L511 1415M475 1462.65L511 1426.65M475 1474.3L511 1438.3M475 1485.95L511 1449.95M475 1497.6L511 1461.6M475 1509.25L511 1473.25M475.7 1520.2L511 1484.9M487.35 1520.2L511 1496.55M499 1520.2L511 1508.2M510.65 1520.2L511 1519.85M475 1508.55L486.65 1520.2M475 1496.9L498.3 1520.2M475 1485.25L509.95 1520.2M475 1473.6L511 1509.6M475 1461.95L511 1497.95M475 1450.3L511 1486.3M475 1438.65L511 1474.65M475 1427L511 1463M475 1415.35L511 1451.35M475 1403.7L511 1439.7M475 1392.05L511 1428.05M475 1380.4L511 1416.4M475 1368.75L511 1404.75M475 1357.1L511 1393.1M475 1345.45L511 1381.45M475 1333.8L511 1369.8M475 1322.15L511 1358.15M475 1310.5L511 1346.5M486.65 1310.5L511 1334.85M498.3 1310.5L511 1323.2M509.95 1310.5L511 1311.55" stroke="#0000ff" stroke-width="1.25" fill="none"/>
<rect x="475" y="1310.5" width="36" height="209.7" fill="none" stroke="#0000ff" stroke-width="2"/>
<path d="M538 1196.5L538.3 1196.2M538 1204.03L545.83 1196.2M538 1211.57L553.37 1196.2M538 1219.1L560.9 1196.2M538 1226.64L568.44 1196.2M538 1234.17L574 1198.17M538 1241.71L574 1205.71M538 1249.24L574 1213.24M538 1256.78L574 1220.78M538 1264.31L574 1228.31M538 1271.85L574 1235.85M538 1279.38L574 1243.38M538 1286.92L574 1250.92M538 1294.45L574 1258.45M538 1301.99L574 1265.99M538 1309.52L574 1273.52M538 1317.06L574 1281.06M538 1324.59L574 1288.59M538 1332.13L574 1296.13M538 1339.66L574 1303.66M538 1347.2L574 1311.2M538 1354.73L574 1318.73M538 1362.27L574 1326.27M538 1369.8L574 1333.8M538 1377.34L574 1341.34M538 1384.87L574 1348.87M538 1392.41L574 1356.41M538 1399.94L574 1363.94M538 1407.48L574 1371.48M538 1415.01L574 1379.01M538 1422.55L574 1386.55M538 1430.08L574 1394.08M538 1437.62L574 1401.62M538 1445.15L574 1409.15M538 1452.69L574 1416.69M538 1460.22L574 1424.22M538 1467.76L574 1431.76M538 1475.29L574 1439.29M538 1482.83L574 1446.83M538 1490.36L574 1454.36M538 1497.9L574 1461.9M538 1505.43L574 1469.43M538 1512.97L574 1476.97M538.3 1520.2L574 1484.5M545.83 1520.2L574 1492.03M553.37 1520.2L574 1499.57M560.9 1520.2L574 1507.1M568.44 1520.2L574 1514.64" stroke="#000000" stroke-width="1.35" fill="none"/>
<rect x="538" y="1196.2" width="36" height="324" fill="none" stroke="#000000" stroke-width="2"/>
<path d="M574 1508.82L585.38 1520.2M574 1497.23L596.97 1520.2M574 1485.65L608.55 1520.2M574 1474.07L610 1510.07M574 1462.49L610 1498.49M574 1450.9L610 1486.9M574 1439.32L610 1475.32M574 1427.74L610 1463.74M574 1416.16L610 1452.16M574 1404.57L610 1440.57M574 1392.99L610 1428.99M574 1381.41L610 1417.41M574 1369.82L610 1405.82M574 1358.24L610 1394.24M574 1346.66L610 1382.66M574 1335.08L610 1371.08M574 1323.49L610 1359.49M574 1311.91L610 1347.91M574 1300.33L610 1336.33M574 1288.74L610 1324.74M574 1277.16L610 1313.16M574 1265.58L610 1301.58M574 1254L610 1290M574 1242.41L610 1278.41M574 1230.83L610 1266.83M574 1219.25L610 1255.25M574 1207.67L610 1243.67M574 1196.08L610 1232.08M574 1184.5L610 1220.5M585.38 1184.3L610 1208.92M596.97 1184.3L610 1197.33M608.55 1184.3L610 1185.75" stroke="#ff0000" stroke-width="1.3" fill="none"/>
<rect x="574" y="1184.3" width="36" height="335.9" fill="none" stroke="#ff0000" stroke-width="2"/>
<path d="M610 1167.7L610.7 1167M610 1179.09L622.09 1167M610 1190.49L633.49 1167M610 1201.88L644.88 1167M610 1213.27L646 1177.27M610 1224.67L646 1188.67M610 1236.06L646 1200.06M610 1247.45L646 1211.45M610 1258.85L646 1222.85M610 1270.24L646 1234.24M610 1281.64L646 1245.64M610 1293.03L646 1257.03M610 1304.42L646 1268.42M610 1315.82L646 1279.82M610 1327.21L646 1291.21M610 1338.6L646 1302.6M610 1350L646 1314M610 1361.39L646 1325.39M610 1372.78L646 1336.78M610 1384.18L646 1348.18M610 1395.57L646 1359.57M610 1406.96L646 1370.96M610 1418.36L646 1382.36M610 1429.75L646 1393.75M610 1441.15L646 1405.15M610 1452.54L646 1416.54M610 1463.93L646 1427.93M610 1475.33L646 1439.33M610 1486.72L646 1450.72M610 1498.11L646 1462.11M610 1509.51L646 1473.51M610.7 1520.2L646 1484.9M622.09 1520.2L646 1496.29M633.49 1520.2L646 1507.69M644.88 1520.2L646 1519.08M610 1508.81L621.39 1520.2M610 1497.41L632.79 1520.2M610 1486.02L644.18 1520.2M610 1474.63L646 1510.63M610 1463.23L646 1499.23M610 1451.84L646 1487.84M610 1440.45L646 1476.45M610 1429.05L646 1465.05M610 1417.66L646 1453.66M610 1406.26L646 1442.26M610 1394.87L646 1430.87M610 1383.48L646 1419.48M610 1372.08L646 1408.08M610 1360.69L646 1396.69M610 1349.3L646 1385.3M610 1337.9L646 1373.9M610 1326.51L646 1362.51M610 1315.12L646 1351.12M610 1303.72L646 1339.72M610 1292.33L646 1328.33M610 1280.94L646 1316.94M610 1269.54L646 1305.54M610 1258.15L646 1294.15M610 1246.75L646 1282.75M610 1235.36L646 1271.36M610 1223.97L646 1259.97M610 1212.57L646 1248.57M610 1201.18L646 1237.18M610 1189.79L646 1225.79M610 1178.39L646 1214.39M610 1167L646 1203M621.39 1167L646 1191.61M632.79 1167L646 1180.21M644.18 1167L646 1168.82" stroke="#0000ff" stroke-width="1.25" fill="none"/>
<rect x="610" y="1167" width="36" height="353.2" fill="none" stroke="#0000ff" stroke-width="2"/>
<rect x="94.2" y="1118" width="3" height="403.7" fill="#000"/>
<rect x="94.2" y="1518.7" width="589.5" height="3" fill="#000"/>
<rect x="94.2" y="1518.7" width="5" height="3" fill="#000"/>
<text transform="translate(86.9 1528.8) scale(1 1.06)" font-size="28.15" font-weight="bold" font-style="normal" text-anchor="end" class="b">0</text>
<rect x="94.2" y="1478.63" width="5" height="3" fill="#000"/>
<rect x="94.2" y="1438.56" width="9" height="3" fill="#000"/>
<text transform="translate(86.9 1448.66) scale(1 1.06)" font-size="28.15" font-weight="bold" font-style="normal" text-anchor="end" class="b">200</text>
<rect x="94.2" y="1398.49" width="5" height="3" fill="#000"/>
<rect x="94.2" y="1358.42" width="9" height="3" fill="#000"/>
<text transform="translate(86.9 1368.52) scale(1 1.06)" font-size="28.15" font-weight="bold" font-style="normal" text-anchor="end" class="b">400</text>
<rect x="94.2" y="1318.35" width="5" height="3" fill="#000"/>
<rect x="94.2" y="1278.28" width="9" height="3" fill="#000"/>
<text transform="translate(86.9 1288.38) scale(1 1.06)" font-size="28.15" font-weight="bold" font-style="normal" text-anchor="end" class="b">600</text>
<rect x="94.2" y="1238.21" width="5" height="3" fill="#000"/>
<rect x="94.2" y="1198.14" width="9" height="3" fill="#000"/>
<text transform="translate(86.9 1208.24) scale(1 1.06)" font-size="28.15" font-weight="bold" font-style="normal" text-anchor="end" class="b">800</text>
<rect x="94.2" y="1158.07" width="5" height="3" fill="#000"/>
<rect x="94.2" y="1118" width="9" height="3" fill="#000"/>
<text transform="translate(86.9 1128.1) scale(1 1.06)" font-size="28.15" font-weight="bold" font-style="normal" text-anchor="end" class="b">1000</text>
<text transform="translate(27 1483.2) rotate(-90) scale(1 0.985)" font-size="34.1" font-weight="bold" class="b">Milling force of <tspan font-style="italic">F</tspan><tspan font-size="22" dy="8" dx="-1">Z</tspan><tspan dy="-8" dx="1.2"> (N)</tspan></text>
<text x="1" y="1110.3" font-size="28" font-weight="normal" font-style="normal" text-anchor="start" stroke="#000" stroke-width=".2">(c)</text>
<use href="#fi" x="108.8" y="1527.2"/>
<text x="222.6" y="1546" font-size="22.4" font-weight="bold" font-style="normal" text-anchor="end" class="b">=0.4mm/r</text>
<text x="121" y="1571.9" font-size="22" font-weight="bold" font-style="italic" text-anchor="start" class="b">a</text>
<text x="131.8" y="1577.4" font-size="14.3" font-weight="bold" font-style="normal" text-anchor="start" class="b">p</text>
<text x="217.4" y="1571.9" font-size="22.2" font-weight="bold" font-style="normal" text-anchor="end" class="b">=0.5mm</text>
<use href="#fi" x="256" y="1527.2"/>
<text x="369.8" y="1546" font-size="22.4" font-weight="bold" font-style="normal" text-anchor="end" class="b">=0.4mm/r</text>
<text x="268.2" y="1571.9" font-size="22" font-weight="bold" font-style="italic" text-anchor="start" class="b">a</text>
<text x="279" y="1577.4" font-size="14.3" font-weight="bold" font-style="normal" text-anchor="start" class="b">p</text>
<text x="364.6" y="1571.9" font-size="22.2" font-weight="bold" font-style="normal" text-anchor="end" class="b">=1.0mm</text>
<use href="#fi" x="403.2" y="1527.2"/>
<text x="517" y="1546" font-size="22.4" font-weight="bold" font-style="normal" text-anchor="end" class="b">=0.8mm/r</text>
<text x="415.4" y="1571.9" font-size="22" font-weight="bold" font-style="italic" text-anchor="start" class="b">a</text>
<text x="426.2" y="1577.4" font-size="14.3" font-weight="bold" font-style="normal" text-anchor="start" class="b">p</text>
<text x="511.8" y="1571.9" font-size="22.2" font-weight="bold" font-style="normal" text-anchor="end" class="b">=0.5mm</text>
<use href="#fi" x="550.4" y="1527.2"/>
<text x="664.2" y="1546" font-size="22.4" font-weight="bold" font-style="normal" text-anchor="end" class="b">=0.8mm/r</text>
<text x="562.6" y="1571.9" font-size="22" font-weight="bold" font-style="italic" text-anchor="start" class="b">a</text>
<text x="573.4" y="1577.4" font-size="14.3" font-weight="bold" font-style="normal" text-anchor="start" class="b">p</text>
<text x="659" y="1571.9" font-size="22.2" font-weight="bold" font-style="normal" text-anchor="end" class="b">=1.0mm</text>
<text x="394.1" y="1607.9" font-size="28.1" font-weight="bold" font-style="normal" text-anchor="middle" class="b">Experiment parameters</text>
<rect x="367.1" y="1084.2" width="302.5" height="79.9" fill="#fff" stroke="#000" stroke-width="1.3"/>
<path d="M370.4 1087.6L370.7 1087.3M370.4 1095.03L378.13 1087.3M370.4 1102.47L385.57 1087.3M370.7 1109.6L393 1087.3M378.13 1109.6L400.43 1087.3M385.57 1109.6L407.87 1087.3M393 1109.6L415.3 1087.3M400.43 1109.6L416.2 1093.83M407.87 1109.6L416.2 1101.27M415.3 1109.6L416.2 1108.7" stroke="#000000" stroke-width="1.35" fill="none"/>
<rect x="370.4" y="1087.3" width="45.8" height="22.3" fill="none" stroke="#000000" stroke-width="2.3"/>
<text x="421.8" y="1105.2" font-size="20.9" font-weight="normal" font-style="normal" text-anchor="start">Wiper-Egde length = 1.1 mm</text>
<path d="M370.4 1124.35L381.35 1135.3M370.4 1113.2L392.5 1135.3M381.35 1113L403.65 1135.3M392.5 1113L414.8 1135.3M403.65 1113L416.2 1125.55M414.8 1113L416.2 1114.4" stroke="#ff0000" stroke-width="1.35" fill="none"/>
<rect x="370.4" y="1113" width="45.8" height="22.3" fill="none" stroke="#ff0000" stroke-width="2.3"/>
<text x="421.8" y="1130.9" font-size="20.9" font-weight="normal" font-style="normal" text-anchor="start">Wiper-Egde length = 2.2 mm</text>
<path d="M370.4 1139.4L371.1 1138.7M370.4 1150.55L382.25 1138.7M371.1 1161L393.4 1138.7M382.25 1161L404.55 1138.7M393.4 1161L415.7 1138.7M404.55 1161L416.2 1149.35M415.7 1161L416.2 1160.5M370.4 1161L370.4 1161M370.4 1149.85L381.55 1161M370.4 1138.7L392.7 1161M381.55 1138.7L403.85 1161M392.7 1138.7L415 1161M403.85 1138.7L416.2 1151.05M415 1138.7L416.2 1139.9" stroke="#0000ff" stroke-width="1.35" fill="none"/>
<rect x="370.4" y="1138.7" width="45.8" height="22.3" fill="none" stroke="#0000ff" stroke-width="2.3"/>
<text x="421.8" y="1156.6" font-size="20.9" font-weight="normal" font-style="normal" text-anchor="start">Wiper-Egde length = 3.3 mm</text>
</svg></body></html>
